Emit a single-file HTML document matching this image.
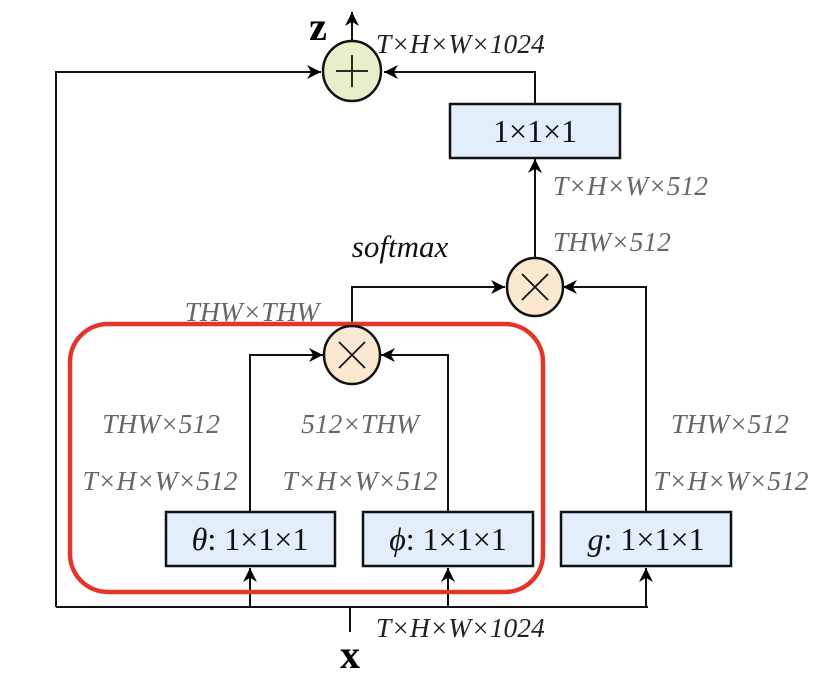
<!DOCTYPE html>
<html><head><meta charset="utf-8"><style>
html,body{margin:0;padding:0;background:#fff;}
svg{display:block;}
.l{font-family:"Liberation Serif",serif;font-style:italic;font-size:27.5px;fill:#666;}
.b{font-family:"Liberation Serif",serif;font-size:32px;fill:#111;}
</style></head><body>
<svg width="824" height="676" viewBox="0 0 824 676" xmlns="http://www.w3.org/2000/svg">
<defs>
<marker id="c" viewBox="0 0 10 10" refX="10" refY="5" markerWidth="14" markerHeight="14" orient="auto" markerUnits="userSpaceOnUse"><path d="M0,0 L10,5 L0,10 L3,5 z" fill="#000"/></marker></defs>
<g stroke="#111" stroke-width="2" fill="none">
<polyline points="350,632 350,607"/>
<polyline points="56,607 648,607"/>
<line x1="250" y1="607" x2="250" y2="568" marker-end="url(#c)"/>
<line x1="448" y1="607" x2="448" y2="568" marker-end="url(#c)"/>
<line x1="646" y1="607" x2="646" y2="568" marker-end="url(#c)"/>
<polyline points="56,607 56,72 321,72" marker-end="url(#c)"/>
<polyline points="535,104 535,72 384,72" marker-end="url(#c)"/>
<line x1="352" y1="42" x2="352" y2="12" marker-end="url(#c)"/>
<polyline points="250,512 250,355 323,355" marker-end="url(#c)"/>
<polyline points="448,512 448,355 381,355" marker-end="url(#c)"/>
<polyline points="352,326 352,287 505,287" marker-end="url(#c)"/>
<polyline points="646,512 646,287 563,287" marker-end="url(#c)"/>
<line x1="535" y1="257" x2="535" y2="159" marker-end="url(#c)"/>
</g>
<rect x="70" y="324" width="473" height="268" rx="38" fill="none" stroke="#e3362b" stroke-width="4.5"/>
<g stroke="#111" stroke-width="2.5">
<ellipse cx="352" cy="71" rx="29" ry="30" fill="#e6efc9"/>
<g stroke-width="1.8"><line x1="336" y1="71" x2="368" y2="71"/><line x1="352" y1="55" x2="352" y2="87"/></g>
<ellipse cx="352" cy="355" rx="28" ry="29" fill="#fbe8d0"/>
<g stroke-width="1.8"><line x1="339" y1="342" x2="365" y2="368"/><line x1="365" y1="342" x2="339" y2="368"/></g>
<ellipse cx="535" cy="287" rx="28" ry="29" fill="#fbe8d0"/>
<g stroke-width="1.8"><line x1="522" y1="274" x2="548" y2="300"/><line x1="548" y1="274" x2="522" y2="300"/></g>
<rect x="450" y="104" width="170" height="54" fill="#e2eef9"/>
<rect x="166" y="512" width="169" height="54" fill="#e2eef9"/>
<rect x="363" y="512" width="170" height="54" fill="#e2eef9"/>
<rect x="561" y="512" width="170" height="54" fill="#e2eef9"/>
</g>
<text class="b" x="535" y="142" text-anchor="middle">1×1×1</text>
<text class="b" x="250" y="550" text-anchor="middle"><tspan font-style="italic">θ</tspan>: 1×1×1</text>
<text class="b" x="448" y="550" text-anchor="middle"><tspan font-style="italic">ϕ</tspan>: 1×1×1</text>
<text class="b" x="646" y="550" text-anchor="middle"><tspan font-style="italic">g</tspan>: 1×1×1</text>
<text x="318" y="40" font-family="Liberation Serif,serif" font-weight="bold" font-size="40" fill="#000" text-anchor="middle">z</text>
<text x="350" y="668" font-family="Liberation Serif,serif" font-weight="bold" font-size="40" fill="#000" text-anchor="middle">x</text>
<text class="l" x="376" y="53" style="fill:#222">T×H×W×1024</text>
<text class="l" x="376" y="637" style="fill:#222">T×H×W×1024</text>
<text class="l" x="553" y="195">T×H×W×512</text>
<text class="l" x="553" y="251">THW×512</text>
<text class="l" x="400" y="257" style="fill:#111;font-size:31px" text-anchor="middle">softmax</text>
<text class="l" x="252" y="321" text-anchor="middle">THW×THW</text>
<text class="l" x="161" y="433" text-anchor="middle">THW×512</text>
<text class="l" x="360" y="433" text-anchor="middle">512×THW</text>
<text class="l" x="160" y="490" text-anchor="middle">T×H×W×512</text>
<text class="l" x="360" y="490" text-anchor="middle">T×H×W×512</text>
<text class="l" x="730" y="433" text-anchor="middle">THW×512</text>
<text class="l" x="731" y="490" text-anchor="middle">T×H×W×512</text>
</svg>
</body></html>
